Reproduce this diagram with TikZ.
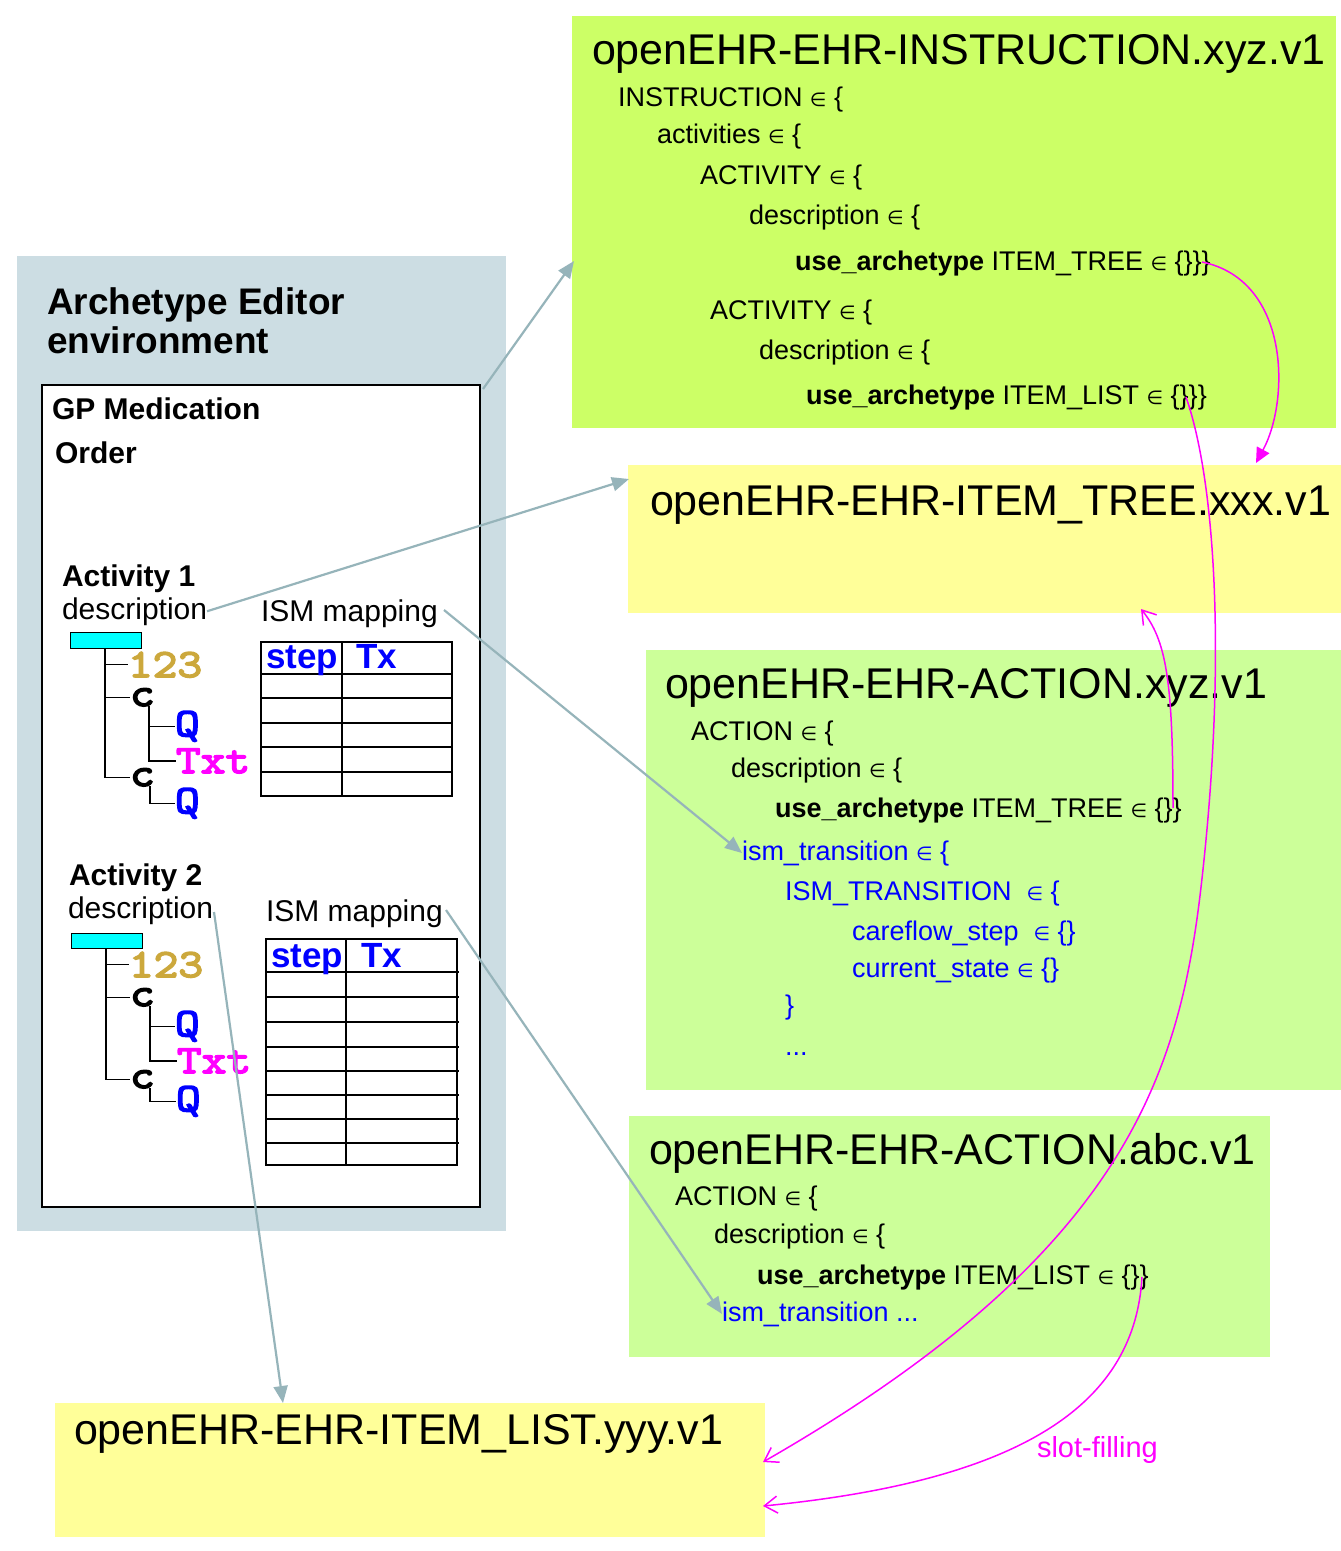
\documentclass[tikz,border=0pt]{standalone}
\usepackage{fontspec}
\setmainfont{Liberation Sans}
\newfontfamily\monof[FakeBold=4,FakeStretch=1.2]{Latin Modern Mono}
\newfontfamily\symf{DejaVu Sans}
\usetikzlibrary{arrows.meta}
\newcommand\myfs[1]{\fontsize{#1}{#1}\selectfont}
\newcommand\el{{\symf\myfs{19}∈}}
\definecolor{envgray}{RGB}{204,221,227}
\definecolor{instrgreen}{RGB}{204,255,102}
\definecolor{actgreen}{RGB}{204,255,153}
\definecolor{arcyellow}{RGB}{255,255,153}
\definecolor{arrowgray}{RGB}{150,180,186}
\definecolor{slotmag}{RGB}{255,0,255}
\definecolor{goldnum}{RGB}{204,168,60}
\definecolor{pureblue}{RGB}{0,0,255}
\definecolor{cyanbar}{RGB}{0,255,255}
\tikzset{
  box/.style={anchor=north west, inner sep=0pt, outer sep=0pt},
  lbl/.style={anchor=base west, inner sep=0pt, outer sep=0pt},
  title/.style={lbl, font=\myfs{43}},
  body/.style={lbl, font=\myfs{27}},
  bluebody/.style={body, text=pureblue},
  leftbold/.style={lbl, font=\myfs{30}\bfseries},
  leftreg/.style={lbl, font=\myfs{30}},
  numgl/.style={lbl, font=\monof\myfs{40}, text=goldnum},
  cgl/.style={lbl, font=\monof\myfs{40}},
  qgl/.style={lbl, font=\monof\myfs{40}, text=pureblue},
  txtgl/.style={lbl, font=\monof\myfs{40}, text=slotmag},
  hdr/.style={lbl, font=\myfs{35}\bfseries, text=pureblue},
  treeline/.style={draw=black, line width=1.4pt},
  tabline/.style={draw=black, line width=1.3pt},
  grayarrow/.style={draw=arrowgray, line width=2.2pt, -{Triangle[length=17pt,width=14pt]}},
  slotfill/.style={draw=slotmag, line width=1.5pt, -{Straight Barb[length=13pt,width=17pt]}},
  slotsolid/.style={draw=slotmag, line width=1.5pt, -{Triangle[length=15pt,width=14pt]}}
}
\begin{document}
\begin{tikzpicture}[x=1pt,y=-1pt]
\useasboundingbox (0,0) rectangle (1341,1551);
\fill[white] (0,0) rectangle (1341,1551);

% ---------- left environment panel ----------
\node (env) [box, fill=envgray, minimum width=489, minimum height=975] at (17,256) {};
\node (envt1) [lbl, font=\myfs{37}\bfseries] at (47,314) {Archetype Editor};
\node (envt2) [lbl, font=\myfs{37}\bfseries] at (47,353) {environment};
\node (inner) [box, fill=white, draw=black, line width=1.3pt, minimum width=438, minimum height=822] at (42,385) {};
\node (gp1) [leftbold] at (52,419) {GP Medication};
\node (gp2) [leftbold] at (55,463) {Order};

% Activity 1
\node (act1) [leftbold] at (62,586) {Activity 1};
\node (desc1) [leftreg] at (62,619) {description};
\node (ism1) [leftreg] at (261,621) {ISM mapping};
\node (bar1) [box, fill=cyanbar, draw=black, line width=0.8pt, minimum width=71, minimum height=16] at (70,632) {};
\node (n1) [numgl] at (128,677) {123};
\node (c1) [cgl] at (130,706) {c};
\node (q1) [qgl] at (175,736) {Q};
\node (x1) [txtgl] at (176,773) {Txt};
\node (c1b) [cgl] at (130,786) {c};
\node (q1b) [qgl] at (175,813) {Q};
\coordinate (trunk1) at (105,648);
\coordinate (sub1) at (149,706);
\coordinate (sub1b) at (150,786);
\draw[treeline] (trunk1) |- (n1.west);
\draw[treeline] (trunk1) |- (c1.west);
\draw[treeline] (trunk1) |- (c1b.west);
\draw[treeline] (sub1) |- (q1.west);
\draw[treeline] (sub1) |- (x1.west);
\draw[treeline] (sub1b) |- (q1b.west);

\node (tab1) [box, draw=black, line width=1.3pt, minimum width=191, minimum height=154] at (261,642) {};
\draw[tabline] (342,642) -- (342,796);
\foreach \yy in {674,698,723,747,772} \draw[tabline] (261,\yy) -- (453,\yy);
\node (st1) [hdr] at (266,668) {step};
\node (tx1) [hdr] at (356,668) {Tx};

% Activity 2
\node (act2) [leftbold] at (69,885) {Activity 2};
\node (desc2) [leftreg] at (68,918) {description};
\node (ism2) [leftreg] at (266,921) {ISM mapping};
\node (bar2) [box, fill=cyanbar, draw=black, line width=0.8pt, minimum width=71, minimum height=15] at (71,933) {};
\node (n2) [numgl] at (129,977) {123};
\node (c2) [cgl] at (130,1006) {c};
\node (q2) [qgl] at (175,1036) {Q};
\node (x2) [txtgl] at (177,1073) {Txt};
\node (c2b) [cgl] at (130,1088) {c};
\node (q2b) [qgl] at (176,1111) {Q};
\coordinate (trunk2) at (106,948);
\coordinate (sub2) at (150,1006);
\coordinate (sub2b) at (150,1088);
\draw[treeline] (trunk2) |- (n2.west);
\draw[treeline] (trunk2) |- (c2.west);
\draw[treeline] (trunk2) |- (c2b.west);
\draw[treeline] (sub2) |- (q2.west);
\draw[treeline] (sub2) |- (x2.west);
\draw[treeline] (sub2b) |- (q2b.west);

\node (tab2) [box, draw=black, line width=1.3pt, minimum width=191, minimum height=226] at (266,939) {};
\draw[tabline] (346,939) -- (346,1165);
\foreach \yy in {972,997,1022,1047,1071,1095,1119,1143} \draw[tabline] (266,\yy) -- (459,\yy);
\node (st2) [hdr] at (271,967) {step};
\node (tx2) [hdr] at (361,967) {Tx};

% ---------- INSTRUCTION box ----------
\node (instr) [box, fill=instrgreen, minimum width=764, minimum height=412] at (572,16) {};
\node (instrT) [title] at (592,64) {openEHR-EHR-INSTRUCTION.xyz.v1};
\node (i1) [body] at (618,106) {INSTRUCTION \el\ \{};
\node (i2) [body] at (657,143) {activities \el\ \{};
\node (i3) [body] at (700,184) {ACTIVITY \el\ \{};
\node (i4) [body] at (749,224) {description \el\ \{};
\node (i5) [body] at (795,270) {\textbf{use\_archetype} ITEM\_TREE \el\ \{\}\}\}};
\node (i6) [body] at (710,319) {ACTIVITY \el\ \{};
\node (i7) [body] at (759,359) {description \el\ \{};
\node (i8) [body] at (806,404) {\textbf{use\_archetype} ITEM\_LIST \el\ \{\}\}\}};

% ---------- ITEM_TREE box ----------
\node (tree) [box, fill=arcyellow, minimum width=713, minimum height=148] at (628,465) {};
\node (treeT) [title] at (650,515) {openEHR-EHR-ITEM\_TREE.xxx.v1};

% ---------- ACTION.xyz box ----------
\node (actx) [box, fill=actgreen, minimum width=695, minimum height=440] at (646,650) {};
\node (actxT) [title] at (665,698) {openEHR-EHR-ACTION.xyz.v1};
\node (a1) [body] at (691,740) {ACTION \el\ \{};
\node (a2) [body] at (731,777) {description \el\ \{};
\node (a3) [body] at (775,817) {\textbf{use\_archetype} ITEM\_TREE \el\ \{\}\}};
\node (a4) [bluebody] at (742,860) {ism\_transition \el\ \{};
\node (a5) [bluebody] at (785,900) {ISM\_TRANSITION\ \ \el\ \{};
\node (a6) [bluebody] at (852,940) {careflow\_step\ \ \el\ \{\}};
\node (a7) [bluebody] at (852,977) {current\_state \el\ \{\}};
\node (a8) [bluebody] at (785,1014) {\}};
\node (a9) [bluebody] at (785,1055) {...};

% ---------- ACTION.abc box ----------
\node (acta) [box, fill=actgreen, minimum width=641, minimum height=241] at (629,1116) {};
\node (actaT) [title] at (649,1164) {openEHR-EHR-ACTION.abc.v1};
\node (b1) [body] at (675,1205) {ACTION \el\ \{};
\node (b2) [body] at (714,1243) {description \el\ \{};
\node (b3) [body] at (757,1284) {\textbf{use\_archetype} ITEM\_LIST \el\ \{\}\}};
\node (b4) [bluebody] at (722,1321) {ism\_transition ...};

% ---------- ITEM_LIST box ----------
\node (list) [box, fill=arcyellow, minimum width=710, minimum height=134] at (55,1403) {};
\node (listT) [title] at (74,1444) {openEHR-EHR-ITEM\_LIST.yyy.v1};

\node (slotlbl) [lbl, font=\myfs{29}, text=slotmag] at (1037,1457) {slot-filling};

% ---------- gray connectors ----------
\coordinate (g1s) at (483,389);
\coordinate (g1e) at (574,261);
\coordinate (g2e) at (629,479);
\coordinate (g4s) at (214,912);
\coordinate (g4e) at (283,1403);
\coordinate (g3s) at (444,610);
\coordinate (g5s) at (446,910);
\draw[grayarrow] (g1s) -- (g1e);
\draw[grayarrow] (desc1.east) -- (g2e);
\draw[grayarrow] (g3s) -- (a4.west);
\draw[grayarrow] (g4s) -- (g4e);
\draw[grayarrow] (g5s) -- (b4.west);

% ---------- magenta slot-filling connectors ----------
\coordinate (m1s) at (1202,262);
\coordinate (m1e) at (1256,463);
\coordinate (m2s) at (1186,397);
\coordinate (m2m) at (1205,850);
\coordinate (m2e) at (763,1462);
\coordinate (m3s) at (1173,808);
\coordinate (m3e) at (1141,609);
\coordinate (m4s) at (1142,1277);
\coordinate (m4e) at (763,1506);
\draw[slotsolid] (m1s) .. controls (1290,280) and (1290,400) .. (m1e);
\draw[slotfill] (m2s) .. controls (1215,480) and (1225,650) .. (m2m) .. controls (1185,1050) and (1150,1240) .. (m2e);
\draw[slotfill] (m3s) .. controls (1173,680) and (1166,640) .. (m3e);
\draw[slotfill] (m4s) .. controls (1135,1400) and (1030,1480) .. (m4e);
\end{tikzpicture}
\end{document}
